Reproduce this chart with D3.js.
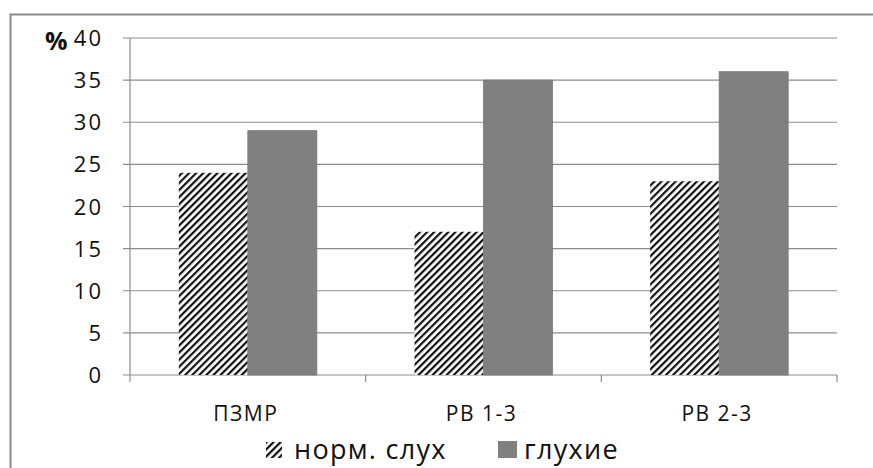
<!DOCTYPE html>
<html><head><meta charset="utf-8">
<script src="https://cdn.jsdelivr.net/npm/d3@7"></script>
<style>body{margin:0;background:#fff}svg{display:block}text{font-family:"Open Sans",sans-serif;fill:#111}</style>
</head><body><svg id="c" width="873" height="468"></svg>
<script>
const categories = ["ПЗМР", "РВ 1-3", "РВ 2-3"];
const seriesNames = ["норм. слух", "глухие"];
const normValues = [24, 17, 23];
const deafValues = [29, 35, 36];
const yTicks = [0, 5, 10, 15, 20, 25, 30, 35, 40];

const svg = d3.select("#c");
const defs = svg.append("defs");
const pat = defs.append("pattern").attr("id","hatch").attr("patternUnits","userSpaceOnUse")
  .attr("width",5).attr("height",5).attr("patternTransform","rotate(45)");
pat.append("rect").attr("width",5).attr("height",5).attr("fill","#fff");
pat.append("rect").attr("x",0).attr("width",2.2).attr("height",5).attr("fill","#111");

// outer frame
svg.append("rect").attr("x",10.5).attr("y",14.5).attr("width",880).attr("height",480)
  .attr("fill","none").attr("stroke","#8a8a8a").attr("stroke-width",2);

const x0 = 130, x1 = 837, yTop = 38, yBot = 375;
const x = d3.scaleBand().domain(categories).range([x0, x1]);
const y = d3.scaleLinear().domain([0, 40]).range([yBot, yTop]);

// gridlines
svg.append("g").selectAll("line").data(yTicks).join("line")
  .attr("x1", x0-7).attr("x2", x1).attr("y1", d=>y(d)).attr("y2", d=>y(d))
  .attr("stroke","#8c8c8c").attr("stroke-width",1.2);

// y labels
svg.append("g").selectAll("text").data(yTicks).join("text")
  .attr("x", 103).attr("y", d=>y(d)+8).attr("text-anchor","end")
  .attr("font-size",22).attr("letter-spacing",2).text(d=>d);
svg.append("text").attr("x",45).attr("y",yTop+12).attr("font-size",25).attr("font-weight","bold").text("%");

// y axis line
svg.append("line").attr("x1",x0).attr("x2",x0).attr("y1",yTop).attr("y2",yBot)
  .attr("stroke","#8c8c8c").attr("stroke-width",1.2);

// x axis tick marks at boundaries
const bounds = categories.map(c=>x(c)).concat([x1]);
svg.append("g").selectAll("line").data(bounds).join("line")
  .attr("x1",d=>d).attr("x2",d=>d).attr("y1",yBot).attr("y2",yBot+7)
  .attr("stroke","#8c8c8c").attr("stroke-width",1.2);

const bw = 69;
const data = categories.map((c,i)=>({c, vals:[normValues[i], deafValues[i]]}));
const g = svg.append("g");
data.forEach(d=>{
  const cx = x(d.c) + x.bandwidth()/2;
  g.append("rect").attr("x", cx-bw).attr("width", bw).attr("y", y(d.vals[0])).attr("height", yBot - y(d.vals[0]))
    .attr("fill","url(#hatch)");
  g.append("rect").attr("x", cx).attr("width", bw).attr("y", y(d.vals[1])).attr("height", yBot - y(d.vals[1]))
    .attr("fill","#808080").attr("stroke","#777").attr("stroke-width",0.8);
});

// category labels
svg.append("g").selectAll("text").data(categories).join("text")
  .attr("x", d=>x(d)+x.bandwidth()/2 - 2).attr("y", 421).attr("text-anchor","middle")
  .attr("font-size",21).attr("letter-spacing",1.5).text(d=>d);

// legend
const leg = svg.append("g");
leg.append("rect").attr("x",266).attr("y",442).attr("width",16).attr("height",16).attr("fill","url(#hatch)");
leg.append("text").attr("x",294).attr("y",459).attr("font-size",27).attr("letter-spacing",1.3).text(seriesNames[0]);
leg.append("rect").attr("x",498).attr("y",441).attr("width",19).attr("height",17).attr("fill","#808080");
leg.append("text").attr("x",524).attr("y",459).attr("font-size",27).attr("letter-spacing",1.3).text(seriesNames[1]);
</script></body></html>
